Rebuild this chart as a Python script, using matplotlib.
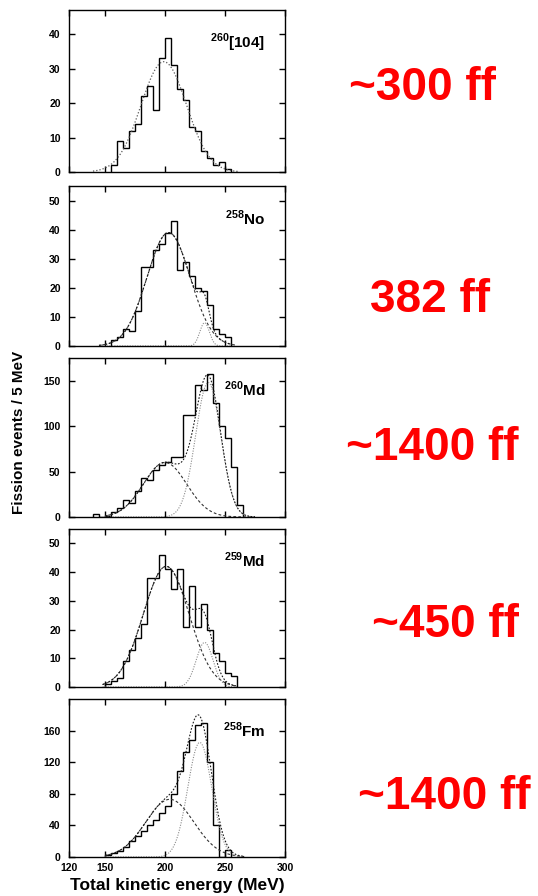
import numpy as np
import matplotlib.pyplot as plt

plt.rcParams["font.family"] = ["Liberation Sans", "DejaVu Sans"]
plt.rcParams["font.weight"] = "bold"
plt.rcParams["mathtext.fontset"] = "custom"
plt.rcParams["mathtext.rm"] = "Liberation Sans:bold"
plt.rcParams["mathtext.bf"] = "Liberation Sans:bold"

BIN = 5  # MeV per bin

# --- 260[104] ---
rf_start = 155
rf_counts = [2, 9, 7, 12, 14, 22, 25, 18, 33, 39, 31, 24, 21, 13, 12, 6, 4, 2, 3, 1]
rf_fit = [(32, 199, 19)]          # (amplitude, centre, sigma)

# --- 258No ---
no_start = 155
no_counts = [2, 3, 6, 5, 12, 27, 27, 33, 35, 39, 43, 26, 29, 24, 20, 19, 14, 6, 4, 3]
no_fit = [(39, 203, 18), (8, 233, 4)]

# --- 260Md ---
md260_start = 140
md260_counts = [3, 0, 1, 6, 10, 19, 15, 29, 43, 41, 52, 57, 61, 66, 66,
                112, 112, 145, 140, 157, 125, 100, 87, 55, 13]
md260_fit = [(60, 200, 18), (148, 236, 10.5)]

# --- 259Md ---
md259_start = 150
md259_counts = [1, 2, 3, 9, 13, 17, 22, 38, 38, 46, 41, 34, 41, 21, 35, 21,
                29, 20, 12, 9, 5, 4]
md259_fit = [(42, 201, 19), (15.5, 233, 7)]

# --- 258Fm ---
fm_start = 150
fm_counts = [2, 5, 8, 13, 20, 26, 33, 41, 47, 56, 64, 80, 109, 133, 148,
             167, 169, 120, 40, 0, 9]
fm_fit = [(73, 204, 20), (145, 229, 10)]

labels = ["$^{260}$[104]", "$^{258}$No", "$^{260}$Md", "$^{259}$Md", "$^{258}$Fm"]
ylims = [47, 55, 175, 55, 200]
yticks = [range(0, 41, 10), range(0, 51, 10), range(0, 151, 50),
          range(0, 51, 10), range(0, 161, 40)]
counts_note = ["~300 ff", "382 ff", "~1400 ff", "~450 ff", "~1400 ff"]

panels = [
    (rf_start, rf_counts, rf_fit),
    (no_start, no_counts, no_fit),
    (md260_start, md260_counts, md260_fit),
    (md259_start, md259_counts, md259_fit),
    (fm_start, fm_counts, fm_fit),
]

# axes boxes in pixels (top, bottom) of a 538x896 figure
boxes = [(10, 172), (186, 346), (358, 517), (529, 687), (699, 857)]
note_y = [88, 300, 448, 625, 797]
note_x = [422, 430, 432, 445, 444]
fit_range = [(140, 262), (145, 258), (150, 275), (148, 260), (150, 266)]


def gauss(x, a, mu, s):
    return a * np.exp(-0.5 * ((x - mu) / s) ** 2)


W, H = 538, 896
fig = plt.figure(figsize=(W / 100, H / 100), dpi=100)

for i, (start, counts, fit) in enumerate(panels):
    top, bot = boxes[i]
    ax = fig.add_axes([69 / W, 1 - bot / H, 216 / W, (bot - top) / H])

    edges = start + BIN * np.arange(len(counts) + 1)
    ax.stairs(counts, edges, color="black", lw=1.0)

    x = np.linspace(*fit_range[i], 400)
    if len(fit) == 1:
        ax.plot(x, gauss(x, *fit[0]), color="0.35", lw=0.9, ls=(0, (1, 1.6)))
    else:
        low = gauss(x, *fit[0])
        high = gauss(x, *fit[1])
        ax.plot(x, low, color="0.2", lw=0.8, ls=(0, (2.5, 2)))
        ax.plot(x, high, color="0.55", lw=0.8, ls=(0, (1, 1.3)))
        ax.plot(x, low + high, color="0.1", lw=0.8, ls=(0, (1.5, 1.5)))

    ax.set_xlim(120, 300)
    ax.set_ylim(0, ylims[i])
    ax.set_yticks(list(yticks[i]))
    ax.set_xticks([120, 150, 200, 250, 300])
    ax.tick_params(direction="in", length=4, width=1, top=True, right=True,
                   labelsize=7.5, pad=6)
    ax.tick_params(axis="x", pad=4)
    if i < 4:
        ax.tick_params(axis="x", labelbottom=False)
    for s in ax.spines.values():
        s.set_linewidth(1.0)

    ax.text(0.91, 0.80, labels[i], transform=ax.transAxes, ha="right",
            va="center", fontsize=11, fontweight="bold")

    fig.text(note_x[i] / W, 1 - note_y[i] / H, counts_note[i], color="#ff0000",
             fontsize=33, fontweight="bold", ha="center", va="center")

fig.text(19 / W, 1 - 432 / H, "Fission events / 5 MeV", rotation=90,
         ha="center", va="center", fontsize=11, fontweight="bold")
fig.text(177 / W, 1 - 885 / H, "Total kinetic energy (MeV)",
         ha="center", va="center", fontsize=12.5, fontweight="bold")

fig.savefig("out.png", dpi=100)
